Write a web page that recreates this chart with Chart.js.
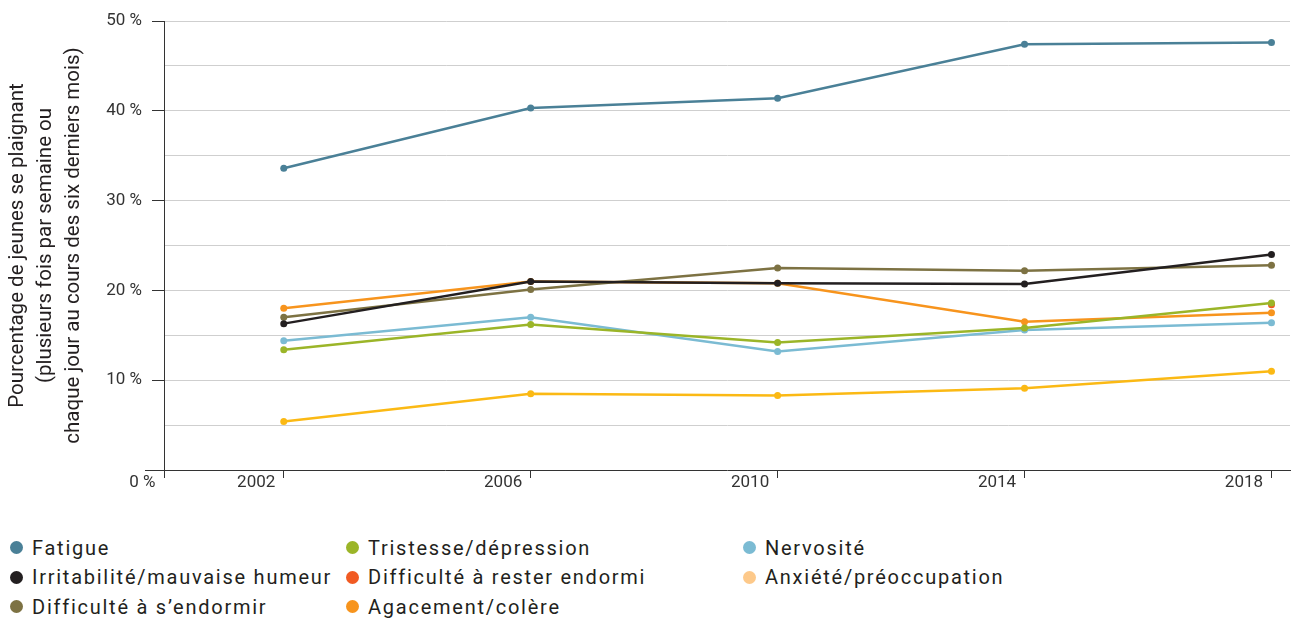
<!DOCTYPE html>
<html>
<head>
<meta charset="utf-8">
<script src="https://cdn.jsdelivr.net/npm/chart.js@4"></script>
<style>
  body { margin: 0; background: #fff; font-family: Roboto, sans-serif; }
  #wrap { position: relative; width: 1294px; height: 619px; }
  #legend {
    position: absolute; left: 10px; top: 533px;
    display: grid; grid-auto-flow: column;
    grid-template-rows: repeat(3, 29.5px);
    grid-template-columns: 336px 397px 300px;
    font-size: 20px; letter-spacing: 1.75px; color: #231f20;
  }
  #legend div { display: flex; align-items: center; white-space: nowrap; }
  #legend span.dot { width: 13px; height: 13px; border-radius: 50%; margin-right: 9px; flex: none; }
</style>
</head>
<body>
<div id="wrap">
  <canvas id="chart" width="1294" height="500"></canvas>
  <div id="legend"></div>
</div>
<script>
const years = [2002, 2006, 2010, 2014, 2018];
const xTickYears = [2000, 2002, 2006, 2010, 2014, 2018];
const xTickLabels = ["0 %", "2002", "2006", "2010", "2014", "2018"];

const fatigue = [33.6, 40.3, 41.4, 47.4, 47.6];
const irritabilite = [16.3, 21.0, 20.8, 20.7, 24.0];
const endormir = [17.0, 20.1, 22.5, 22.2, 22.8];
const tristesse = [13.4, 16.2, 14.2, 15.8, 18.6];
const resterEndormi = [null, null, null, null, 18.4];
const agacement = [18.0, 21.0, 20.8, 16.5, 17.5];
const nervosite = [14.4, 17.0, 13.2, 15.6, 16.4];
const anxiete = [5.4, 8.5, 8.3, 9.1, 11.0];

function pts(values) {
  return years.map((y, i) => ({ x: y, y: values[i] }));
}

function series(label, values, color, legendColor) {
  return {
    label: label,
    data: pts(values),
    borderColor: color,
    backgroundColor: color,
    legendColor: legendColor || color,
    borderWidth: 2.5,
    pointRadius: 3.5,
    pointBorderWidth: 0,
    spanGaps: false,
  };
}

// base line runs a bit left of the y axis, like the original
const baseLine = {
  id: "baseLine",
  afterDraw(chart) {
    const c = chart.ctx, a = chart.chartArea;
    c.save();
    c.strokeStyle = "#333";
    c.lineWidth = 1;
    c.beginPath();
    c.moveTo(145, a.bottom + 0.5);
    c.lineTo(a.left, a.bottom + 0.5);
    c.stroke();
    c.restore();
  },
};

const X_MIN = 2000.06;

const chart = new Chart(document.getElementById("chart"), {
  type: "line",
  data: {
    datasets: [
      series("Fatigue", fatigue, "#4a8097"),
      series("Irritabilité/mauvaise humeur", irritabilite, "#231f20"),
      series("Difficulté à s\u2019endormir", endormir, "#7d7243"),
      series("Tristesse/dépression", tristesse, "#9bb528"),
      series("Difficulté à rester endormi", resterEndormi, "#f15a22"),
      series("Agacement/colère", agacement, "#f7941d"),
      series("Nervosité", nervosite, "#7bbbd3"),
      series("Anxiété/préoccupation", anxiete, "#fbb914", "#fdc98a"),
    ],
  },
  options: {
    responsive: false,
    animation: false,
    layout: { padding: { top: 21, right: 4, bottom: 0, left: 0 } },
    plugins: {
      legend: { display: false },
      tooltip: { enabled: false },
    },
    scales: {
      x: {
        type: "linear",
        min: X_MIN,
        max: 2018.3,
        // first tick sits on the y axis and carries the "0 %" label
        afterBuildTicks: (s) => {
          s.ticks = xTickYears.map((v, i) => ({ value: i === 0 ? X_MIN : v, label: xTickLabels[i] }));
        },
        afterFit: (s) => { s.height = 30; },
        border: { display: true, color: "#333", width: 1 },
        grid: { drawOnChartArea: false, drawTicks: true, tickLength: 8, tickColor: "#333" },
        ticks: {
          autoSkip: false,
          maxRotation: 0,
          align: "end",
          padding: -5,
          color: "#333",
          font: { family: "Roboto", size: 17 },
          callback: (v, i) => xTickLabels[i] + "  ",
        },
      },
      y: {
        min: 0,
        max: 50,
        afterFit: (s) => { s.width = 164; },
        border: { display: true, color: "#333", width: 1 },
        grid: {
          color: (c) => (c.tick && c.tick.value === 0 ? "transparent" : "#cfcfcf"),
          tickColor: (c) => (c.tick && c.tick.value % 10 === 0 ? "#333" : "transparent"),
          tickLength: 12,
        },
        ticks: {
          stepSize: 5,
          padding: 10,
          color: "#333",
          font: { family: "Roboto", size: 17 },
          callback: (v) => (v % 10 === 0 && v > 0 ? v + " %" : ""),
        },
        title: {
          display: true,
          text: [
            "Pourcentage de jeunes se plaignant",
            "(plusieurs fois par semaine ou",
            "chaque jour au cours des six derniers mois)",
          ],
          color: "#231f20",
          padding: { top: 4, bottom: 0 },
          font: { family: "Roboto", size: 20.5, lineHeight: 1.37 },
        },
      },
    },
  },
  plugins: [baseLine],
});

// legend in three columns, filled top to bottom
const legendBox = document.getElementById("legend");
chart.data.datasets.forEach((ds) => {
  const item = document.createElement("div");
  const dot = document.createElement("span");
  dot.className = "dot";
  dot.style.background = ds.legendColor;
  item.appendChild(dot);
  item.appendChild(document.createTextNode(ds.label));
  legendBox.appendChild(item);
});
</script>
</body>
</html>
